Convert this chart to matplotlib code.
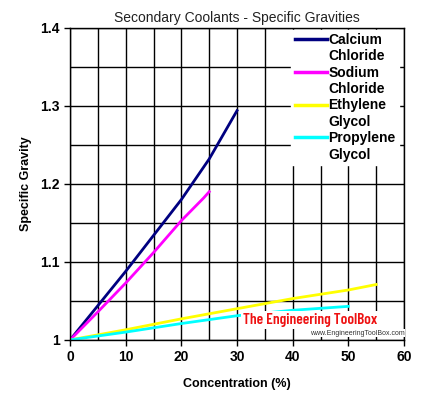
import matplotlib.pyplot as plt
from matplotlib.lines import Line2D
import numpy as np

plt.rcParams['font.family'] = ['Liberation Sans', 'DejaVu Sans']

# concentration (%) and specific gravity
conc_cacl = [0, 5, 10, 15, 20, 25, 30]
sg_cacl = [1.0, 1.044, 1.088, 1.134, 1.18, 1.232, 1.294]

conc_nacl = [0, 5, 10, 15, 20, 24, 25]
sg_nacl = [1.0, 1.036, 1.073, 1.112, 1.153, 1.182, 1.19]

conc_eg = [0, 10, 20, 30, 40, 50, 55]
sg_eg = [1.0, 1.013, 1.027, 1.04, 1.053, 1.064, 1.071]

conc_pg = [0, 10, 20, 30, 40, 50]
sg_pg = [1.0, 1.01, 1.021, 1.031, 1.038, 1.043]

labels = [('Calcium', 'Chloride'), ('Sodium', 'Chloride'),
          ('Ethylene', 'Glycol'), ('Propylene', 'Glycol')]
colors = ['#000080', '#FF00FF', '#FFFF00', '#00FFFF']

fig = plt.figure(figsize=(4.3, 4.11), dpi=100)
ax = fig.add_axes([0.163, 0.173, 0.7765, 0.759])

ax.plot(conc_cacl, sg_cacl, color=colors[0], lw=2)
ax.plot(conc_nacl, sg_nacl, color=colors[1], lw=2)
ax.plot(conc_eg, sg_eg, color=colors[2], lw=2)
ax.plot(conc_pg, sg_pg, color=colors[3], lw=2)

ax.set_xlim(0, 60)
ax.set_ylim(1.0, 1.4)
ax.set_xticks(np.arange(0, 61, 10))
ax.set_yticks([1.0, 1.1, 1.2, 1.3, 1.4])
ax.set_yticklabels(['1', '1.1', '1.2', '1.3', '1.4'])
ax.set_xticks(np.arange(0, 61, 5), minor=True)
ax.set_yticks(np.arange(1.0, 1.401, 0.05), minor=True)
ax.grid(which='both', color='black', lw=1)
ax.tick_params(which='minor', length=0)
ax.tick_params(which='major', direction='out', length=4, width=1, labelsize=10)
for lab in ax.get_xticklabels() + ax.get_yticklabels():
    lab.set_fontweight('bold')
for s in ax.spines.values():
    s.set_linewidth(1)
ax.set_axisbelow(True)

ax.set_title('Secondary Coolants - Specific Gravities', fontsize=10, color='#222222', pad=4)
ax.set_xlabel('Concentration (%)', fontsize=9, fontweight='bold', labelpad=10)
ax.set_ylabel('Specific Gravity', fontsize=9, fontweight='bold', labelpad=6)

# legend: line on the first word, second word on its own row
handles, texts = [], []
for c, (w1, w2) in zip(colors, labels):
    handles.append(Line2D([], [], color=c, lw=2.5))
    texts.append(w1)
    handles.append(Line2D([], [], color='none'))
    texts.append(w2)
leg = ax.legend(handles, texts, loc='upper right', bbox_to_anchor=(0.985, 0.995),
                frameon=True, fancybox=False, edgecolor='white', framealpha=1,
                prop={'weight': 'bold', 'size': 10}, handlelength=2.3,
                handletextpad=0.1, labelspacing=0.17, borderpad=0.25,
                borderaxespad=0)
leg.set_zorder(5)

ax.text(0.72, 0.063, 'The Engineering ToolBox', transform=ax.transAxes,
        color='#EE1111', fontsize=11, fontweight='semibold',
        family=['Barlow Condensed', 'DejaVu Sans'],
        ha='center', va='center', zorder=6,
        bbox=dict(facecolor='white', edgecolor='none', pad=1.5))
ax.text(0.86, 0.022, 'www.EngineeringToolBox.com', transform=ax.transAxes,
        color='#333333', fontsize=5, ha='center', va='center', zorder=6,
        bbox=dict(facecolor='white', edgecolor='none', pad=0.5))

fig.savefig('out.png', dpi=100)
